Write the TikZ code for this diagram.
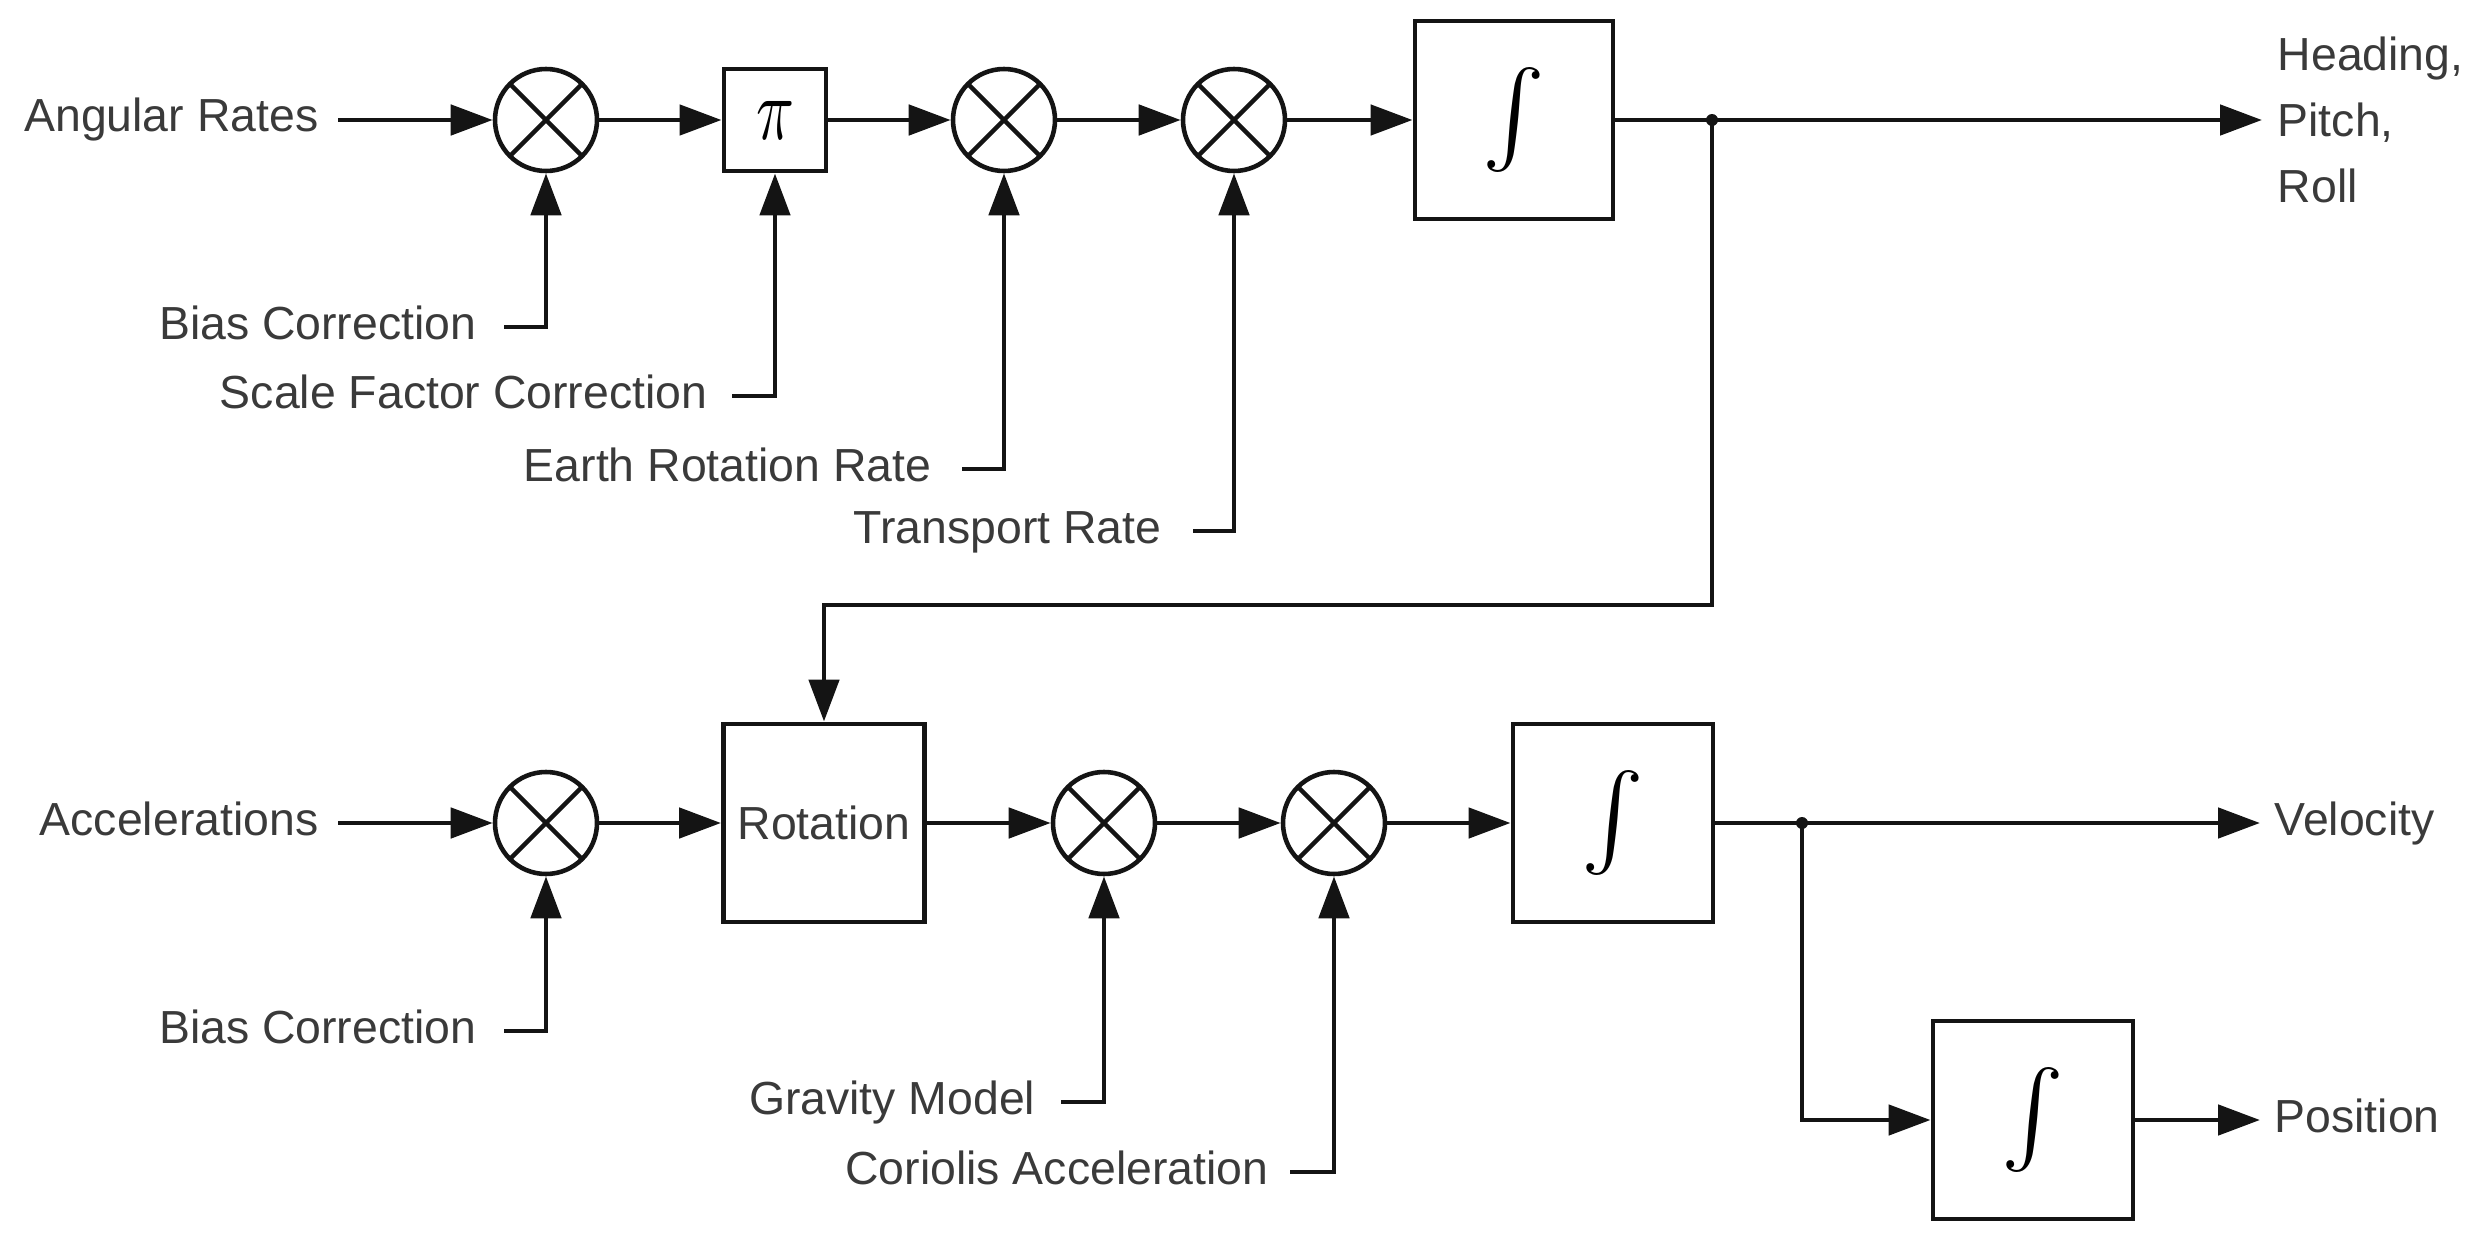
\documentclass[tikz,border=0pt]{standalone}
\usepackage{fontspec}
\setmainfont{Liberation Sans}
\usetikzlibrary{arrows.meta}
\definecolor{txtc}{HTML}{3A3A3A}
\definecolor{linec}{HTML}{141414}
\newcommand{\integsym}{\resizebox*{!}{10.5mm}{$\textstyle\int$}}
\begin{document}
\begin{tikzpicture}[x=0.1mm,y=-0.1mm,
  ln/.style={line width=1.4pt,draw=linec},
  sig/.style={ln,-{Triangle[length=4.2mm,width=3mm]}},
  sum/.style={circle,draw=linec,line width=1.3pt,minimum size=10.2mm,inner sep=0pt,
    path picture={\draw[line width=1.3pt,linec]
      (path picture bounding box.north east)--(path picture bounding box.south west)
      (path picture bounding box.north west)--(path picture bounding box.south east);}},
  blk/.style={draw=linec,line width=1.4pt,inner sep=0pt},
  lbl/.style={font=\fontsize{13.2}{18.8}\selectfont,text=txtc,inner sep=0pt},
  dotc/.style={fill=linec}]
\useasboundingbox (0,0) rectangle (2479,1240);

% ---------- top row ----------
\node[sum] (c1) at (546,120) {};
\node[blk,minimum size=10.2mm] (pi) at (775,120) {\resizebox{3.8mm}{3.8mm}{$\pi$}};
\node[sum] (c2) at (1004,120) {};
\node[sum] (c3) at (1234,120) {};
\node[blk,minimum size=19.8mm] (i1) at (1514,120) {\integsym};
\coordinate (j1) at (1712,120);
\coordinate (hout) at (2262,120);
\coordinate (fbc) at (1712,605);

\node[lbl,anchor=base east] (tAR) at (319,131) {Angular Rates};
\coordinate (sAR) at (338,120);
\node[lbl,anchor=north west,align=left] (tHPR) at (2277,36) {Heading,\\Pitch,\\Roll};

\node[lbl,anchor=base east] (tB1) at (477,339) {Bias Correction};
\coordinate (sB1) at (504,327);
\node[lbl,anchor=base east] (tSF) at (708,408) {Scale Factor Correction};
\coordinate (sSF) at (732,396);
\node[lbl,anchor=base east] (tER) at (932,481) {Earth Rotation Rate};
\coordinate (sER) at (962,469);
\node[lbl,anchor=base east] (tTR) at (1162,543) {Transport Rate};
\coordinate (sTR) at (1193,531);

\draw[sig] (sAR) -- (c1);
\draw[sig] (c1) -- (pi);
\draw[sig] (pi) -- (c2);
\draw[sig] (c2) -- (c3);
\draw[sig] (c3) -- (i1);
\draw[sig] (i1) -- (hout);
\draw[sig] (sB1) -| (c1);
\draw[sig] (sSF) -| (pi);
\draw[sig] (sER) -| (c2);
\draw[sig] (sTR) -| (c3);

% ---------- bottom row ----------
\node[sum] (c4) at (546,823) {};
\node[blk,minimum width=20.1mm,minimum height=19.8mm] (rot) at (824,823) {};
\node[lbl] (tRot) at (rot.center) {Rotation};
\node[sum] (c5) at (1104,823) {};
\node[sum] (c6) at (1334,823) {};
\node[blk,minimum width=20mm,minimum height=19.8mm] (i2) at (1613,823) {\integsym};
\coordinate (j2) at (1802,823);
\coordinate (vout) at (2260,823);
\node[blk,minimum width=20mm,minimum height=19.8mm] (i3) at (2033,1120) {\integsym};
\coordinate (pout) at (2260,1120);

\node[lbl,anchor=base east] (tAcc) at (319,835) {Accelerations};
\coordinate (sAcc) at (338,823);
\node[lbl,anchor=base west] (tVel) at (2274,835) {Velocity};
\node[lbl,anchor=base west] (tPos) at (2274,1132) {Position};

\node[lbl,anchor=base east] (tB2) at (477,1043) {Bias Correction};
\coordinate (sB2) at (504,1031);
\node[lbl,anchor=base east] (tGM) at (1036,1114) {Gravity Model};
\coordinate (sGM) at (1061,1102);
\node[lbl,anchor=base east] (tCA) at (1269,1184) {Coriolis Acceleration};
\coordinate (sCA) at (1290,1172);

\draw[sig] (sAcc) -- (c4);
\draw[sig] (c4) -- (rot);
\draw[sig] (rot) -- (c5);
\draw[sig] (c5) -- (c6);
\draw[sig] (c6) -- (i2);
\draw[sig] (i2) -- (vout);
\draw[sig] (j2) |- (i3);
\draw[sig] (i3) -- (pout);
\draw[sig] (sB2) -| (c4);
\draw[sig] (sGM) -| (c5);
\draw[sig] (sCA) -| (c6);

% ---------- feedback ----------
\draw[sig] (j1) -- (fbc) -| (rot);
\fill[dotc] (j1) circle (0.6mm);
\fill[dotc] (j2) circle (0.6mm);
\end{tikzpicture}
\end{document}
